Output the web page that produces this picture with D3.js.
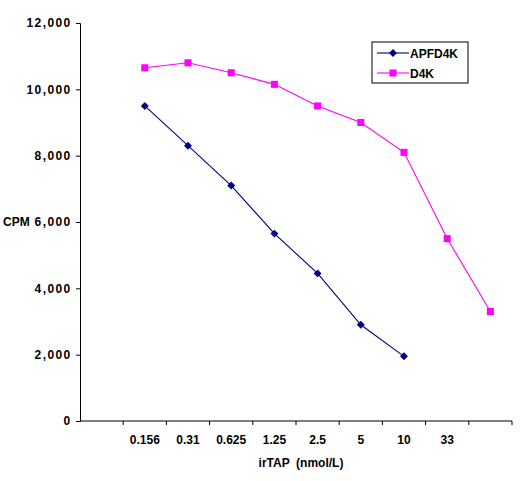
<!DOCTYPE html>
<html><head><meta charset="utf-8">
<script src="https://cdn.jsdelivr.net/npm/d3@7"></script>
<style>body{margin:0;background:#fff}svg{display:block}text{font-family:"Liberation Sans",Arial,sans-serif;font-weight:bold;fill:#000}</style>
</head><body><svg id="c" width="528" height="481"></svg>
<script>
const categories = ["", "0.156", "0.31", "0.625", "1.25", "2.5", "5", "10", "33", " "];
const apfd4k = [null, 9500, 8300, 7100, 5650, 4450, 2900, 1950, null, null];
const d4k = [null, 10650, 10800, 10500, 10150, 9500, 9000, 8100, 5500, 3300];
const yTicks = [0, 2000, 4000, 6000, 8000, 10000, 12000];
const seriesNames = ["APFD4K", "D4K"];

const svg = d3.select("#c");
const L = 80, R = 512, T = 23, B = 421;
const x = d3.scaleBand().domain(categories).range([L, R]);
const y = d3.scaleLinear().domain([0, 12000]).range([B, T]);
const fmt = d3.format(",");

// y axis
const ya = svg.append("g").attr("transform", `translate(${L},0)`)
  .call(d3.axisLeft(y).tickValues(yTicks).tickFormat(fmt).tickSizeOuter(0).tickSize(4).tickPadding(3));
ya.select(".domain").attr("stroke", "#000");
ya.selectAll("text").style("font-size", "12px").style("letter-spacing", "1.4px").attr("dx", "-1.4px");

// x axis
const xa = svg.append("g").attr("transform", `translate(0,${B})`)
  .call(d3.axisBottom(x).tickSize(0).tickPadding(14));
xa.select(".domain").attr("stroke", "#000").attr("d", `M${L},0H${R}`);
xa.selectAll("text").style("font-size", "12px");
// band boundary ticks
const bounds = categories.map(c => x(c)).concat([R]).slice(1);
svg.append("g").selectAll("line").data(bounds).join("line")
  .attr("x1", d => d).attr("x2", d => d).attr("y1", B).attr("y2", B + 4).attr("stroke", "#000");

svg.append("text").attr("x", 301).attr("y", 467).attr("text-anchor", "middle").style("font-size", "12px")
  .attr("xml:space", "preserve").text("irTAP  (nmol/L)");
svg.append("text").attr("x", 3).attr("y", 226).style("font-size", "12px").text("CPM");

const cx = c => x(c) + x.bandwidth() / 2;
const line = d3.line().defined(d => d.v != null).x(d => cx(d.c)).y(d => y(d.v));
const mk = arr => categories.map((c, i) => ({ c, v: arr[i] }));

const sA = mk(apfd4k), sD = mk(d4k);
svg.append("path").datum(sD).attr("d", line).attr("fill", "none").attr("stroke", "#FF00FF").attr("stroke-width", 1.1);
svg.append("path").datum(sA).attr("d", line).attr("fill", "none").attr("stroke", "#000080").attr("stroke-width", 1.1);

const sq = d3.symbol().type(d3.symbolSquare).size(50);
const dm = d3.symbol().type(d3.symbolDiamond2).size(40);
svg.append("g").selectAll("path").data(sD.filter(d => d.v != null)).join("path")
  .attr("d", sq).attr("transform", d => `translate(${cx(d.c)},${y(d.v)})`).attr("fill", "#FF00FF");
svg.append("g").selectAll("path").data(sA.filter(d => d.v != null)).join("path")
  .attr("d", dm).attr("transform", d => `translate(${cx(d.c)},${y(d.v)})`).attr("fill", "#000080");

// legend
const lg = svg.append("g");
lg.append("rect").attr("x", 372).attr("y", 42).attr("width", 96).attr("height", 41).attr("fill", "#fff").attr("stroke", "#000");
const colors = ["#000080", "#FF00FF"];
seriesNames.forEach((n, i) => {
  const yy = 53 + i * 20;
  lg.append("line").attr("x1", 377).attr("x2", 409).attr("y1", yy).attr("y2", yy).attr("stroke", colors[i]).attr("stroke-width", 1.1);
  lg.append("path").attr("d", i === 0 ? dm : sq).attr("transform", `translate(393,${yy})`).attr("fill", colors[i]);
  lg.append("text").attr("x", 410).attr("y", yy + 4.5).style("font-size", "12px").text(n);
});
</script></body></html>
